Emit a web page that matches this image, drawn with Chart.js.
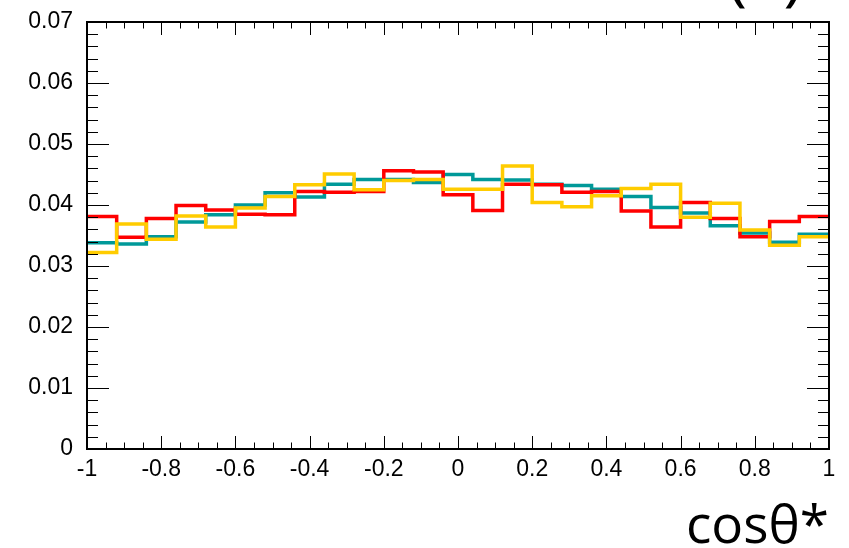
<!DOCTYPE html>
<html><head><meta charset="utf-8">
<script src="https://cdn.jsdelivr.net/npm/chart.js@4.4.1/dist/chart.umd.min.js"></script>
<style>html,body{margin:0;padding:0;background:#fff}#wrap{width:849px;height:548px}</style>
</head><body><div id="wrap"><canvas id="c" width="849" height="548"></canvas></div>
<script>
// ---- data ----
const xMin = -1, xMax = 1, nBins = 25;
const xTickLabels = ['-1','-0.8','-0.6','-0.4','-0.2','0','0.2','0.4','0.6','0.8','1'];
const yTickLabels = ['0','0.01','0.02','0.03','0.04','0.05','0.06','0.07'];
const redValues    = [0.0381,0.0347,0.0378,0.0399,0.0392,0.0385,0.0384,0.0422,0.0421,0.0422,0.0456,0.0454,0.0417,0.0391,0.0434,0.0433,0.0421,0.0422,0.0390,0.0364,0.0404,0.0378,0.0348,0.0373,0.0381];
const tealValues   = [0.0338,0.0336,0.0348,0.0372,0.0384,0.0400,0.0420,0.0413,0.0434,0.0442,0.0442,0.0437,0.0450,0.0442,0.0441,0.0434,0.0432,0.0426,0.0414,0.0396,0.0387,0.0366,0.0354,0.0339,0.0352];
const yellowValues = [0.0322,0.0369,0.0344,0.0382,0.0364,0.0395,0.0414,0.0433,0.0451,0.0425,0.0440,0.0442,0.0426,0.0426,0.0464,0.0404,0.0397,0.0415,0.0427,0.0434,0.0380,0.0403,0.0359,0.0334,0.0348];
const axisTitle = 'cosθ*';
const cornerLabel = '(a)';

// ---- build step points from bin contents ----
const binWidth = (xMax - xMin) / nBins;
function stepPoints(vals){
  const pts = vals.map((v,i)=>({x: xMin + i*binWidth, y: v}));
  pts.push({x: xMax, y: vals[vals.length-1]});
  return pts;
}
function ds(vals, color, order){
  return {data: stepPoints(vals), borderColor: color, borderWidth: 3.5, stepped: 'before',
          pointRadius: 0, fill: false, order: order, tension: 0, borderCapStyle: 'square', borderJoinStyle: 'miter'};
}

const rootAxes = {
  id: 'rootAxes',
  afterDatasetsDraw(chart){
    const {ctx, chartArea: a, scales: {x, y}} = chart;
    ctx.save();
    ctx.strokeStyle = '#000';
    ctx.lineWidth = 1;
    ctx.beginPath();
    for (let i = 0; i <= 40; i++){
      const v = xMin + i*0.05;
      const px = Math.round(x.getPixelForValue(v)) + 0.5;
      const L = (i % 4 === 0) ? 13 : 6.5;
      ctx.moveTo(px, a.bottom); ctx.lineTo(px, a.bottom - L);
      ctx.moveTo(px, a.top); ctx.lineTo(px, a.top + L);
    }
    for (let i = 0; i <= 35; i++){
      const v = i*0.002;
      const py = Math.round(y.getPixelForValue(v)) + 0.5;
      const L = (i % 5 === 0) ? 22 : 11;
      ctx.moveTo(a.left, py); ctx.lineTo(a.left + L, py);
      ctx.moveTo(a.right, py); ctx.lineTo(a.right - L, py);
    }
    ctx.stroke();
    ctx.lineWidth = 2;
    ctx.strokeRect(a.left, a.top, a.right - a.left, a.bottom - a.top);
    // label above the frame, only its lowest part is inside the picture
    ctx.fillStyle = '#000';
    ctx.font = '66px "Open Sans", "Noto Sans", sans-serif';
    ctx.textAlign = 'right';
    ctx.textBaseline = 'alphabetic';
    const m = ctx.measureText(cornerLabel);
    const desc = m.actualBoundingBoxDescent || 14;
    const inner = ctx.measureText(cornerLabel.slice(1, -1)).actualBoundingBoxDescent || 1;
    const base = Math.min(13 - desc, -inner - 1);
    ctx.fillText(cornerLabel, 803, base);
    ctx.restore();
  }
};

new Chart(document.getElementById('c'), {
  type: 'line',
  data: { datasets: [
    ds(tealValues, 'rgb(0,153,153)', 3),
    ds(redValues, 'rgb(255,0,0)', 2),
    ds(yellowValues, 'rgb(255,204,0)', 1)
  ]},
  options: {
    responsive: false, animation: false, devicePixelRatio: 1,
    layout: { padding: { top: 22, right: 20, left: 0, bottom: 0 } },
    plugins: { legend: { display: false }, tooltip: { enabled: false } },
    scales: {
      x: {
        type: 'linear', min: xMin, max: xMax,
        grid: { display: false }, border: { display: false },
        ticks: { stepSize: 0.2, padding: -1, maxRotation: 0, autoSkip: false, color: '#000',
          font: { family: '"Liberation Sans", Arial, sans-serif', size: 23 },
          callback: (v) => xTickLabels[Math.round((v - xMin) / 0.2)] },
        title: { display: true, text: axisTitle, align: 'end', color: '#000',
          font: { family: '"Open Sans", "Noto Sans", sans-serif', size: 53 }, padding: { top: 0, bottom: -12 } },
        afterFit: (s) => { s.height = 99; }
      },
      y: {
        min: 0, max: 0.07,
        grid: { display: false }, border: { display: false },
        ticks: { stepSize: 0.01, padding: 6, color: '#000',
          font: { family: '"Liberation Sans", Arial, sans-serif', size: 23 },
          callback: (v) => yTickLabels[Math.round(v / 0.01)] },
        afterFit: (s) => { s.width = 87; }
      }
    }
  },
  plugins: [rootAxes]
});
</script></body></html>
